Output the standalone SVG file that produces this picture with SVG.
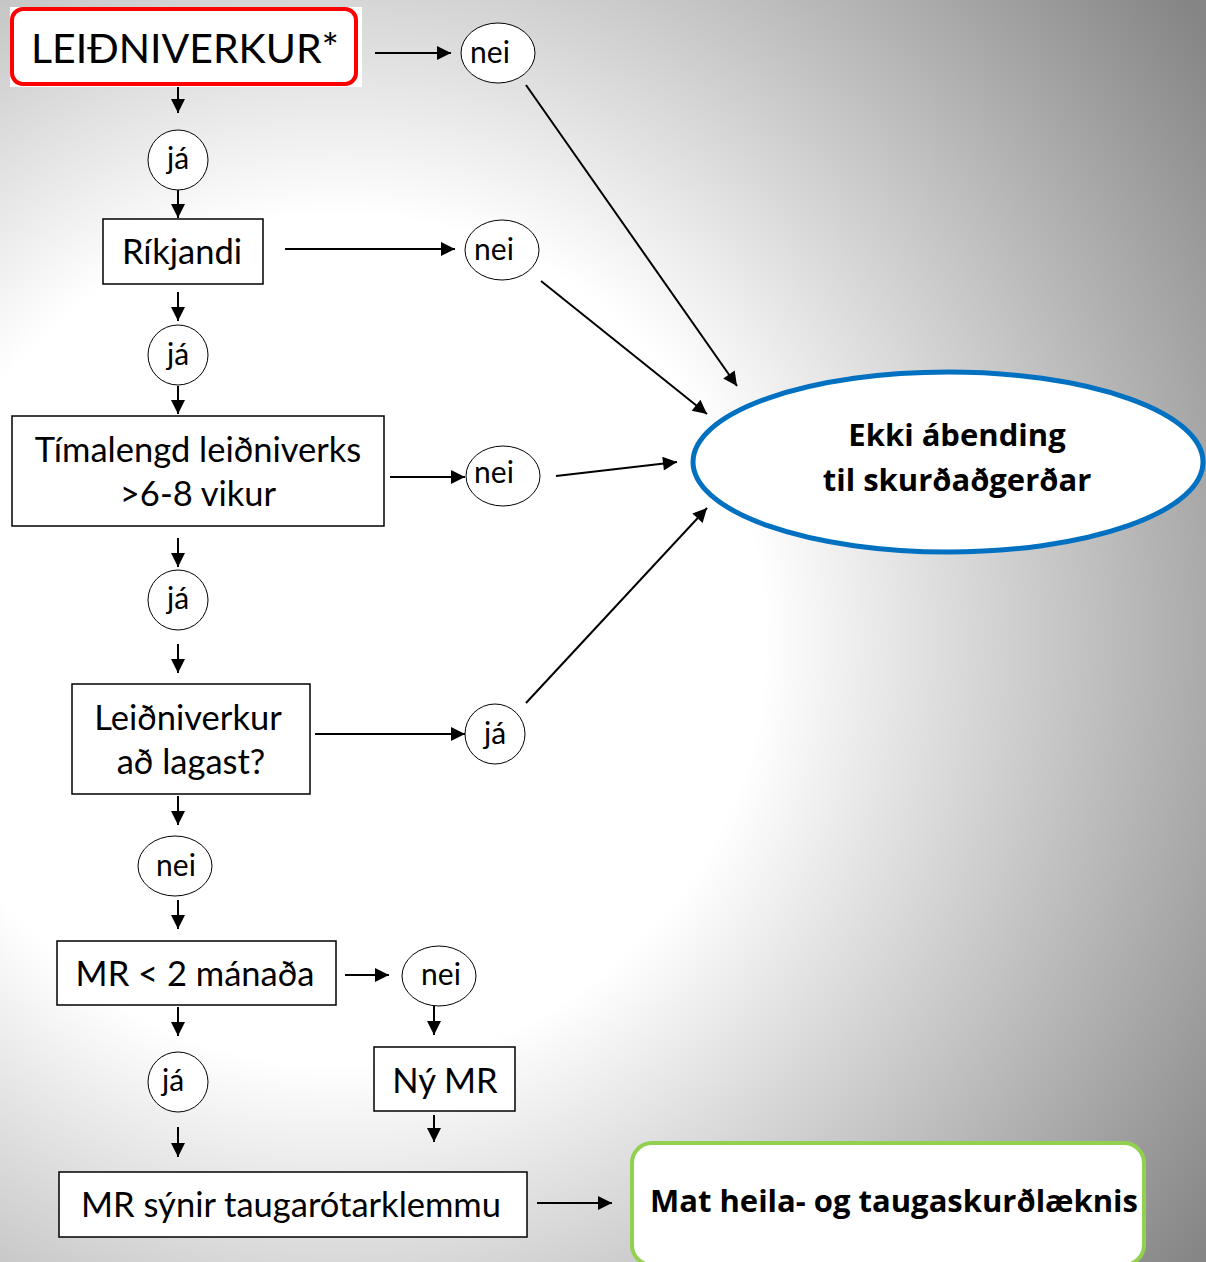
<svg xmlns="http://www.w3.org/2000/svg" width="1206" height="1262" viewBox="0 0 1206 1262">
<defs>
<radialGradient id="bg" gradientUnits="userSpaceOnUse" cx="340" cy="640" r="1060">
<stop offset="0" stop-color="#ffffff"/>
<stop offset="0.4" stop-color="#ffffff"/>
<stop offset="1" stop-color="#858585"/>
</radialGradient>
<marker id="ah2" viewBox="0 0 10 10" refX="10" refY="5" markerWidth="16" markerHeight="14" markerUnits="userSpaceOnUse" orient="auto">
<path d="M0,0 L10,5 L0,10 z" fill="#000"/>
</marker>
</defs>
<style>
.box{fill:#fff;stroke:#000;stroke-width:1.5}
.oval{fill:#fff;stroke:#000;stroke-width:1}
.t{font-family:Lato,"Liberation Sans",sans-serif;fill:#000;text-anchor:middle}
.lbl{font-size:30px}
.bt{font-size:34.5px}
.bold{font-weight:bold;font-family:"Open Sans","Liberation Sans",sans-serif}
.c{stroke:#000;stroke-width:2;fill:none;marker-end:url(#ah2)}
</style>
<rect width="1206" height="1262" fill="url(#bg)"/>

<g id="connectors">
<line class="c" x1="375" y1="53" x2="451" y2="53"/>
<line class="c" x1="178" y1="87" x2="178" y2="113"/>
<line class="c" x1="178" y1="190" x2="178" y2="218"/>
<line class="c" x1="285" y1="249" x2="455" y2="249"/>
<line class="c" x1="178" y1="292" x2="178" y2="321"/>
<line class="c" x1="178" y1="386" x2="178" y2="414"/>
<line class="c" x1="390" y1="477" x2="465" y2="477"/>
<line class="c" x1="556" y1="476" x2="677" y2="462"/>
<line class="c" x1="178" y1="538" x2="178" y2="567"/>
<line class="c" x1="178" y1="644" x2="178" y2="673"/>
<line class="c" x1="315" y1="734" x2="465" y2="734"/>
<line class="c" x1="526" y1="703" x2="707" y2="508"/>
<line class="c" x1="526" y1="85" x2="737" y2="386"/>
<line class="c" x1="541" y1="281" x2="707" y2="414"/>
<line class="c" x1="178" y1="796" x2="178" y2="825"/>
<line class="c" x1="178" y1="900" x2="178" y2="929"/>
<line class="c" x1="345" y1="975" x2="389" y2="975"/>
<line class="c" x1="434" y1="1006" x2="434" y2="1035"/>
<line class="c" x1="434" y1="1115" x2="434" y2="1142"/>
<line class="c" x1="178" y1="1007" x2="178" y2="1036"/>
<line class="c" x1="178" y1="1127" x2="178" y2="1157"/>
<line class="c" x1="537" y1="1203" x2="612" y2="1203"/>
</g>

<g id="n-leidniverkur">
<rect x="10" y="7" width="352" height="80" fill="#fff"/>
<rect x="12" y="9" width="344" height="75" rx="11" fill="#fff" stroke="#ff0000" stroke-width="4"/>
<text class="t" x="185" y="63" font-size="41">LEIÐNIVERKUR*</text>
</g>
<g id="n-nei1"><ellipse class="oval" cx="498" cy="53" rx="37" ry="30"/><text class="t lbl" x="490" y="63">nei</text></g>
<g id="n-ja1"><circle class="oval" cx="178" cy="160" r="30"/><text class="t lbl" x="178" y="169">já</text></g>
<g id="n-rikjandi"><rect class="box" x="103" y="219" width="160" height="65"/><text class="t bt" x="182" y="264">Ríkjandi</text></g>
<g id="n-nei2"><ellipse class="oval" cx="502" cy="250" rx="37" ry="30"/><text class="t lbl" x="494" y="260">nei</text></g>
<g id="n-ja2"><circle class="oval" cx="178" cy="355" r="30"/><text class="t lbl" x="178" y="365">já</text></g>
<g id="n-timalengd"><rect class="box" x="12" y="416" width="372" height="110"/><text class="t bt" x="198" y="462">Tímalengd leiðniverks</text><text class="t bt" x="198" y="506">&gt;6-8 vikur</text></g>
<g id="n-nei3"><ellipse class="oval" cx="503" cy="476" rx="37" ry="30"/><text class="t lbl" x="494" y="483">nei</text></g>
<g id="n-ja3"><circle class="oval" cx="178" cy="600" r="30"/><text class="t lbl" x="178" y="609">já</text></g>
<g id="n-lagast"><rect class="box" x="72" y="684" width="238" height="110"/><text class="t bt" x="188" y="730">Leiðniverkur</text><text class="t bt" x="191" y="774">að lagast?</text></g>
<g id="n-ja4"><circle class="oval" cx="495" cy="734" r="30"/><text class="t lbl" x="495" y="744">já</text></g>
<g id="n-nei4"><ellipse class="oval" cx="175" cy="866" rx="37" ry="30"/><text class="t lbl" x="176" y="876">nei</text></g>
<g id="n-mr2"><rect class="box" x="57" y="941" width="279" height="64"/><text class="t bt" x="195" y="986">MR &lt; 2 mánaða</text></g>
<g id="n-nei5"><ellipse class="oval" cx="439" cy="976" rx="37" ry="30"/><text class="t lbl" x="441" y="985">nei</text></g>
<g id="n-nymr"><rect class="box" x="374" y="1047" width="141" height="64"/><text class="t bt" x="445" y="1093">Ný MR</text></g>
<g id="n-ja5"><circle class="oval" cx="178" cy="1082" r="30"/><text class="t lbl" x="173" y="1091">já</text></g>
<g id="n-mrsynir"><rect class="box" x="59" y="1172" width="468" height="65"/><text class="t bt" x="291" y="1217">MR sýnir taugarótarklemmu</text></g>
<g id="n-mat"><rect x="632" y="1143" width="512" height="122" rx="20" fill="#fff" stroke="#92d050" stroke-width="4"/><text class="t bold" x="894" y="1212" font-size="31">Mat heila- og taugaskurðlæknis</text></g>
<g id="n-ekki"><ellipse cx="948" cy="462" rx="255" ry="90" fill="#fff" stroke="#0070c0" stroke-width="5"/><text class="t bold" x="957" y="446" font-size="31">Ekki ábending</text><text class="t bold" x="957" y="491" font-size="31">til skurðaðgerðar</text></g>
</svg>
